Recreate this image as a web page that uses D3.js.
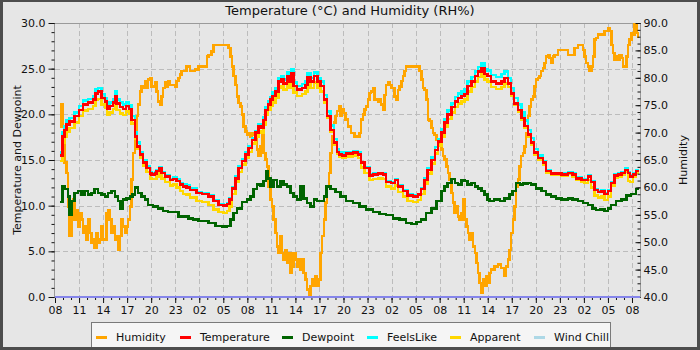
<!DOCTYPE html>
<html>
<head>
<meta charset="utf-8">
<script src="https://cdn.jsdelivr.net/npm/d3@7"></script>
<style>
  html, body { margin: 0; padding: 0; background: #e6e6e6; }
  svg { display: block; font-family: "DejaVu Sans", sans-serif; }
</style>
</head>
<body>
<svg id="chart" width="700" height="350"></svg>
<script>
// ---- data (hours since 08:00 on the first day) ----
const startTime = Date.UTC(2024, 4, 20, 8);
const endTime = Date.UTC(2024, 4, 23, 9);

const tempHours = [0.67,0.92,1.17,1.42,1.83,2.46,3.0,3.5,4.13,4.75,5.08,5.38,5.79,6.21,6.5,6.83,7.25,7.46,7.67,8.08,8.5,8.83,9.25,9.54,9.96,10.25,10.58,11.0,11.42,11.83,12.04,12.46,12.67,13.0,13.29,13.71,14.33,14.75,15.17,15.58,16.0,16.42,16.83,17.67,18.33,19.17,19.79,20.42,21.04,21.46,21.75,22.08,22.5,22.92,23.33,23.75,24.17,24.58,25.0,25.42,25.75,26.0,26.25,26.58,26.88,27.17,27.5,27.92,28.25,28.54,28.96,29.17,29.5,29.79,30.21,30.83,31.25,31.5,31.88,32.29,32.75,33.13,33.54,33.96,34.38,34.79,35.21,35.42,35.83,36.3,37.2,37.8,38.2,38.6,39.25,39.7,40.3,40.9,41.3,41.9,42.4,42.8,43.4,44.0,44.7,45.3,45.7,46.1,46.5,47.0,47.4,47.8,48.2,48.6,49.0,49.5,49.9,50.3,50.7,51.1,51.5,51.96,52.4,52.8,53.2,53.6,54.0,54.4,55.0,55.7,56.1,56.5,56.9,57.3,57.75,58.2,58.6,59.0,59.4,59.8,60.25,60.9,61.3,61.9,62.5,63.2,64.0,64.6,65.0,65.7,66.1,66.5,66.9,67.3,67.75,68.2,68.6,69.0,69.4,69.8,70.25,70.7,71.1,71.5,71.75,72.1,72.5,72.75];

const temperature = [15.5,17.6,18.3,18.9,19.2,19.8,20.5,21.1,21.3,21.6,22.3,22.5,21.8,21.4,20.6,20.9,21.3,22.0,21.2,20.8,20.6,20.9,20.6,19.4,17.6,16.5,15.6,14.7,14.1,13.5,13.4,13.5,13.8,14.1,13.6,13.2,12.8,12.9,12.7,12.3,12.1,12.0,11.7,11.4,11.3,11.0,10.5,10.1,10.0,10.2,10.7,11.9,13.0,14.1,14.9,15.6,16.3,17.2,18.0,18.7,18.5,19.4,20.5,21.1,21.6,22.0,22.5,23.6,23.8,23.4,24.2,23.6,24.5,23.1,22.7,22.9,23.2,24.1,23.6,24.2,23.6,23.1,21.6,19.8,18.3,16.9,15.9,15.6,15.5,15.7,15.8,15.6,14.7,14.1,13.3,13.4,13.5,13.4,12.6,12.5,12.8,12.1,11.6,11.1,11.0,11.2,11.8,12.8,13.9,15.0,16.1,17.0,18.0,19.1,20.0,20.8,21.4,21.8,22.0,22.2,23.1,23.6,24.2,24.7,25.1,24.4,24.2,23.6,23.4,23.6,24.0,23.4,22.3,21.2,20.5,19.6,18.7,17.8,16.9,15.8,15.2,14.7,13.8,13.5,13.5,13.4,13.6,13.4,13.0,12.8,12.8,13.2,12.6,11.7,11.5,11.6,11.3,11.6,12.5,13.3,13.4,13.6,13.9,13.6,13.2,13.4,13.8,13.9];

const feelsLike = [15.8,18.0,18.7,19.3,19.6,20.2,20.9,21.5,21.7,22.0,22.8,22.9,22.2,21.8,21.0,21.3,21.7,22.5,21.6,21.3,21.1,21.3,21.0,19.8,18.0,16.9,15.9,15.0,14.3,13.7,13.6,13.7,13.9,14.2,13.7,13.3,12.9,13.1,12.9,12.5,12.3,12.2,11.9,11.5,11.4,11.1,10.6,10.2,10.1,10.3,10.8,12.0,13.2,14.3,15.1,15.8,16.5,17.4,18.2,18.9,18.8,19.7,20.8,21.4,21.9,22.4,22.9,24.0,24.2,23.8,24.6,24.0,24.9,23.5,23.1,23.3,23.6,24.5,24.0,24.6,24.0,23.6,22.1,20.3,18.8,17.3,16.2,15.9,15.8,15.9,16.0,15.8,14.8,14.2,13.4,13.5,13.6,13.5,12.7,12.6,12.9,12.2,11.7,11.2,11.1,11.3,11.9,13.0,14.1,15.3,16.4,17.3,18.4,19.5,20.4,21.2,21.9,22.3,22.5,22.7,23.6,24.1,24.7,25.2,25.6,24.9,24.8,24.3,24.1,24.4,24.7,24.0,22.9,21.8,21.1,20.2,19.3,18.3,17.4,16.2,15.5,14.9,13.9,13.6,13.6,13.5,13.7,13.5,13.1,12.9,12.9,13.3,12.7,11.8,11.6,11.7,11.4,11.7,12.6,13.4,13.5,13.7,14.1,13.7,13.3,13.5,13.9,14.0];

const apparent = [14.9,16.9,17.5,18.1,18.5,19.1,19.8,20.4,20.6,20.9,21.6,21.7,21.1,20.7,19.9,20.2,20.6,21.3,20.5,20.1,19.9,20.3,20.1,19.0,17.3,16.2,15.3,14.4,13.7,13.0,12.9,12.9,13.2,13.5,13.0,12.6,12.2,12.3,12.0,11.6,11.3,11.2,10.9,10.5,10.4,10.1,9.6,9.3,9.2,9.4,9.9,11.3,12.6,13.7,14.5,15.2,15.9,16.8,17.6,18.2,18.0,18.9,19.9,20.5,20.9,21.3,21.8,22.9,23.1,22.7,23.5,22.9,23.8,22.4,22.0,22.2,22.5,23.4,22.9,23.5,22.9,22.5,21.3,19.6,18.1,16.7,15.7,15.4,15.2,15.4,15.5,15.2,14.2,13.6,12.8,12.9,13.0,12.9,12.1,11.9,12.2,11.5,11.0,10.5,10.4,10.6,11.3,12.4,13.5,14.6,15.7,16.6,17.6,18.6,19.5,20.2,20.8,21.2,21.4,21.6,22.5,23.0,23.6,24.1,24.5,23.8,23.6,23.0,22.8,23.0,23.4,23.0,22.0,21.0,20.3,19.4,18.5,17.6,16.7,15.6,15.0,14.5,13.6,13.4,13.4,13.3,13.5,13.2,12.8,12.6,12.5,12.8,12.0,11.1,10.9,11.0,10.6,11.0,12.2,13.1,13.2,13.4,13.7,12.7,12.6,13.2,13.6,13.7];

const dewHours = [0.67,0.92,1.21,1.63,1.83,2.04,2.46,2.88,3.29,3.71,4.13,4.54,4.96,5.38,5.79,6.21,6.63,7.04,7.46,7.88,8.17,8.5,8.92,9.33,9.67,9.96,10.38,10.79,11.21,11.63,12.25,12.88,13.5,14.13,14.75,15.38,16.0,16.63,17.25,17.88,18.33,19.17,20.0,20.83,21.46,21.88,22.29,22.71,23.33,23.96,24.38,24.79,25.21,25.63,26.04,26.33,26.58,26.88,27.29,27.71,28.13,28.54,28.96,29.38,29.79,30.21,30.63,31.04,31.46,31.88,32.29,32.71,33.13,33.54,33.88,34.38,35.0,35.63,36.3,37.2,38.0,38.8,39.7,40.5,41.3,42.2,43.0,43.8,44.5,45.1,45.7,46.3,47.0,47.6,48.2,48.6,49.0,49.5,49.9,50.3,50.7,51.1,51.5,52.0,52.4,52.8,53.2,53.6,54.0,54.2,54.8,55.5,56.1,56.7,57.1,57.5,58.0,58.4,59.0,59.4,60.0,60.7,61.3,61.9,62.5,63.2,64.0,64.6,65.25,65.9,66.5,67.1,67.5,68.0,68.6,69.0,69.4,70.0,70.7,71.3,71.9,72.5,72.75];

const dewpoint = [10.4,12.1,11.8,11.0,9.0,10.5,11.4,11.6,11.2,11.6,11.2,11.4,11.8,11.4,11.2,11.0,11.4,11.6,11.0,10.5,9.7,10.7,10.8,11.0,11.2,12.0,11.4,11.0,10.7,10.1,9.9,9.7,9.4,9.3,9.3,8.8,8.8,8.6,8.5,8.3,8.3,8.1,7.8,7.7,7.8,8.5,9.2,9.7,10.4,10.7,11.0,11.8,12.3,12.2,12.7,13.8,13.0,12.1,12.8,12.1,12.7,12.3,12.1,11.4,11.0,10.7,12.1,10.8,10.3,9.9,10.7,10.5,10.5,11.0,12.1,11.8,11.5,11.0,10.5,10.3,9.9,9.6,9.3,9.1,9.0,8.6,8.5,8.1,8.0,8.2,8.5,9.2,9.7,10.5,11.6,12.1,12.5,12.9,12.5,12.3,12.8,12.7,12.3,12.5,12.1,11.9,11.6,11.2,10.7,10.5,10.7,10.5,10.8,11.2,11.6,12.5,12.3,12.4,12.5,12.3,11.9,11.6,11.2,11.0,10.8,10.7,10.8,10.7,10.5,10.3,10.1,9.7,9.5,9.6,9.4,9.7,10.1,10.5,10.7,11.1,11.3,11.8,11.9];

const humidityHours = [0.58,0.83,1.0,1.21,1.42,1.63,1.83,2.04,2.25,2.46,2.67,2.88,3.08,3.29,3.5,3.71,3.92,4.13,4.33,4.54,4.75,4.96,5.17,5.38,5.58,5.79,6.0,6.42,6.63,6.83,7.04,7.25,7.46,7.67,7.88,8.08,8.29,8.5,8.71,8.92,9.13,9.33,9.54,9.75,9.96,10.17,10.38,10.58,10.79,11.0,11.21,11.42,11.63,11.83,12.04,12.25,12.46,12.67,12.88,13.08,13.29,13.5,13.71,13.92,14.13,14.33,14.75,14.96,15.17,15.38,15.58,15.79,16.21,16.42,16.83,17.5,17.92,18.75,18.96,19.17,19.5,19.79,21.46,21.67,21.88,22.08,22.29,22.5,22.71,22.92,23.13,23.33,23.54,23.75,23.96,24.17,24.38,24.58,24.79,25.0,25.21,25.42,25.63,25.83,26.04,26.25,26.46,26.67,26.88,27.08,27.29,27.5,27.71,27.92,28.13,28.33,28.54,28.75,28.96,29.17,29.38,29.58,29.79,30.0,30.21,30.42,30.63,30.83,31.04,31.25,31.46,31.67,31.88,32.08,32.29,32.5,32.71,32.92,33.13,33.33,33.54,33.75,33.96,34.17,34.38,34.58,34.79,35.0,35.21,35.42,35.63,35.83,36.04,36.25,36.54,36.96,37.38,37.79,38.0,38.21,38.42,38.63,38.83,39.04,39.25,39.46,39.67,39.88,40.08,40.29,40.5,40.71,40.92,41.13,41.33,41.54,41.75,41.96,42.17,42.38,42.58,42.79,43.0,43.21,43.42,43.63,43.83,45.29,45.5,45.71,45.92,46.13,46.33,46.54,46.75,46.96,47.17,47.38,47.58,47.79,48.0,48.21,48.42,48.63,48.83,49.04,49.25,49.46,49.67,49.88,50.08,50.29,50.5,50.71,50.92,51.13,51.33,51.54,51.75,51.96,52.17,52.38,52.58,52.79,53.0,53.21,53.42,53.63,53.83,54.0,54.25,54.42,54.83,55.25,55.67,56.08,56.29,56.5,56.71,56.92,57.13,57.33,57.54,57.75,57.96,58.17,58.38,58.58,58.79,59.0,59.21,59.42,59.63,59.83,60.04,60.25,60.46,60.67,60.88,61.08,61.29,61.5,61.71,61.92,62.13,62.33,62.75,63.58,64.0,64.42,64.83,65.25,65.67,65.88,66.08,66.29,66.5,66.71,66.92,67.13,67.33,67.54,67.75,68.17,68.58,69.0,69.21,69.42,69.63,69.83,70.04,70.25,70.46,70.67,70.88,71.08,71.29,71.5,71.71,71.92,72.13,72.33,72.54,72.75];

const humidity = [71.1,75.1,71.1,64.5,62.6,56.5,51.1,55.3,57.8,54.1,55.9,52.9,55.3,54.1,51.7,52.9,50.5,54.1,51.7,49.9,50.5,48.9,51.7,49.9,50.5,52.9,50.5,55.3,55.9,54.1,51.7,52.9,50.5,51.1,48.6,51.1,54.1,52.9,51.7,52.9,54.1,56.5,61.4,66.3,70.5,73.0,75.1,77.5,78.4,78.1,79.4,78.1,79.7,80.0,78.4,78.4,79.1,77.5,75.7,75.1,76.6,78.1,79.1,78.4,79.4,78.7,78.7,78.4,79.4,80.0,80.6,81.2,81.2,82.1,81.2,81.5,82.1,82.1,83.9,84.2,84.8,86.0,86.0,85.4,83.9,82.1,80.3,78.7,76.6,75.4,74.8,73.3,71.1,70.2,69.6,69.9,69.3,69.9,69.6,69.3,66.9,65.7,67.5,69.6,66.3,65.1,63.8,60.2,57.8,56.5,54.1,51.7,49.2,48.0,51.1,48.0,46.8,48.6,46.2,48.0,44.4,45.6,48.0,46.8,45.6,46.8,45.0,46.8,44.4,43.2,41.4,40.1,42.0,43.2,42.0,43.8,42.0,43.2,48.0,51.1,54.1,57.2,60.2,62.6,66.3,69.3,71.8,73.0,73.9,74.8,73.0,74.2,73.6,72.4,71.1,69.9,69.3,69.3,69.9,72.4,73.3,74.2,74.8,76.0,77.2,77.5,78.1,76.0,76.0,75.7,76.0,75.1,74.2,76.9,78.7,79.1,78.7,78.1,78.1,76.6,76.0,77.8,78.4,79.4,80.3,81.2,82.1,82.1,81.2,79.7,78.1,77.8,76.0,72.4,72.1,70.8,69.9,69.6,68.7,67.8,68.7,66.9,65.7,65.1,63.8,62.6,61.4,59.0,57.2,55.3,56.5,54.7,54.1,55.3,57.8,54.1,52.9,51.7,50.5,51.7,49.2,48.0,46.2,44.4,42.6,40.7,43.2,42.0,43.8,42.6,44.4,45.0,45.6,45.9,45.3,43.8,45.6,46.8,48.6,51.7,54.1,56.5,60.2,61.4,63.8,65.7,66.3,67.5,69.9,73.0,74.8,76.0,76.6,78.4,79.7,80.0,80.3,81.2,81.8,82.7,83.9,84.2,83.6,82.7,83.9,84.2,85.1,85.1,84.2,84.2,85.4,86.0,86.0,85.1,83.9,82.7,82.1,81.2,82.1,83.9,87.0,87.3,87.9,87.9,88.5,89.1,88.5,86.0,84.5,83.3,83.9,83.3,84.2,83.6,82.1,82.1,83.9,86.0,87.0,88.2,87.9,89.7,88.2,87.3];

const leftTicks = [0, 5, 10, 15, 20, 25, 30];
const rightTicks = [40, 45, 50, 55, 60, 65, 70, 75, 80, 85, 90];

const legendItems = ["Humidity", "Temperature", "Dewpoint", "FeelsLike", "Apparent", "Wind Chill"];
const legendColors = ["#ffa500", "#ff0000", "#006400", "#00ffff", "#ffd700", "#add8e6"];

// ---- layout ----
const W = 700, H = 350;
const plot = { left: 55, right: 640, top: 23, bottom: 297 };

const svg = d3.select("#chart");

// frame
svg.append("rect").attr("x", 0).attr("y", 0).attr("width", W).attr("height", H).attr("fill", "#4d4d4d");
svg.append("rect").attr("x", 3).attr("y", 2).attr("width", W - 6).attr("height", H - 5).attr("fill", "#e6e6e6");

const hourToDate = h => new Date(startTime + h * 3600000);

const x = d3.scaleUtc().domain([new Date(startTime), new Date(endTime)]).range([plot.left, plot.right]);
const yL = d3.scaleLinear().domain([0, 30]).range([plot.bottom, plot.top]);
const yR = d3.scaleLinear().domain([40, 90]).range([plot.bottom, plot.top]);

const majorTimes = d3.utcHour.range(new Date(startTime), new Date(endTime), 3);
const minorTimes = d3.utcHour.range(new Date(startTime), new Date(endTime));

// grid
const grid = svg.append("g").attr("stroke", "#bcbcbc").attr("stroke-width", 1).attr("stroke-dasharray", "5,3");
grid.selectAll("line.v").data(majorTimes.slice(1)).join("line")
  .attr("x1", d => Math.round(x(d)) + 0.5).attr("x2", d => Math.round(x(d)) + 0.5)
  .attr("y1", plot.top).attr("y2", plot.bottom);
grid.selectAll("line.h").data(leftTicks.slice(1, -1)).join("line")
  .attr("x1", plot.left).attr("x2", plot.right)
  .attr("y1", d => Math.round(yL(d)) + 0.5).attr("y2", d => Math.round(yL(d)) + 0.5);

// plot border (top)
svg.append("line").attr("x1", plot.left).attr("x2", plot.right).attr("y1", plot.top + 0.5).attr("y2", plot.top + 0.5)
  .attr("stroke", "#9a9a9a").attr("stroke-width", 1);

// ---- series ----
svg.append("clipPath").attr("id", "plotClip").append("rect")
  .attr("x", plot.left).attr("y", plot.top - 2).attr("width", plot.right - plot.left).attr("height", plot.bottom - plot.top + 2);

const series = svg.append("g").attr("clip-path", "url(#plotClip)").attr("fill", "none")
  .attr("stroke-linejoin", "miter").attr("shape-rendering", "crispEdges");

function drawSeries(hours, values, scale, color, width) {
  const pts = hours.map((h, i) => [hourToDate(h), values[i]]);
  series.append("path")
    .datum(pts)
    .attr("stroke", color)
    .attr("stroke-width", width)
    .attr("d", d3.line().curve(d3.curveStepAfter).x(d => x(d[0])).y(d => scale(d[1])));
}

drawSeries(humidityHours, humidity, yR, legendColors[0], 2.5);
drawSeries(tempHours, feelsLike, yL, legendColors[3], 2.5);
drawSeries(tempHours, apparent, yL, legendColors[4], 2.5);
drawSeries(dewHours, dewpoint, yL, legendColors[2], 2.5);
drawSeries(tempHours, temperature, yL, legendColors[1], 2.5);

// ---- axes ----
const fmt = d3.format(".1f");

function styleAxis(g) {
  g.selectAll("path.domain").remove();
  g.selectAll("line").attr("stroke", "#111");
  g.selectAll("text").attr("fill", "#111").style("font-size", "11px").style("font-family", "DejaVu Sans, sans-serif");
}

// left
svg.append("line").attr("x1", plot.left - 0.5).attr("x2", plot.left - 0.5).attr("y1", plot.top).attr("y2", plot.bottom)
  .attr("stroke", "#9a9a9a");
svg.append("g").attr("transform", `translate(${plot.left - 0.5},0)`)
  .call(d3.axisLeft(yL).tickValues(d3.range(0, 31, 1)).tickSize(3).tickFormat(""))
  .call(styleAxis);
svg.append("g").attr("transform", `translate(${plot.left - 0.5},0)`)
  .call(d3.axisLeft(yL).tickValues(leftTicks).tickSize(6).tickPadding(3).tickFormat(fmt))
  .call(styleAxis);

// right
svg.append("line").attr("x1", plot.right + 0.5).attr("x2", plot.right + 0.5).attr("y1", plot.top).attr("y2", plot.bottom)
  .attr("stroke", "#9a9a9a");
svg.append("g").attr("transform", `translate(${plot.right + 0.5},0)`)
  .call(d3.axisRight(yR).tickValues(d3.range(40, 90.1, 1.25)).tickSize(-3).tickFormat(""))
  .call(styleAxis);
svg.append("g").attr("transform", `translate(${plot.right + 0.5},0)`)
  .call(d3.axisRight(yR).tickValues(rightTicks).tickSizeInner(-5).tickSizeOuter(0).tickPadding(3).tickFormat(fmt))
  .call(styleAxis);

// bottom
svg.append("g").attr("transform", `translate(0,${plot.bottom})`)
  .call(d3.axisBottom(x).tickValues(minorTimes).tickSize(3).tickFormat(""))
  .call(styleAxis);
svg.append("g").attr("transform", `translate(0,${plot.bottom})`)
  .call(d3.axisBottom(x).tickValues(majorTimes).tickSize(6).tickPadding(3).tickFormat(d3.utcFormat("%H")))
  .call(styleAxis);
svg.append("line").attr("x1", plot.left).attr("x2", plot.right).attr("y1", plot.bottom).attr("y2", plot.bottom)
  .attr("stroke", "#8585ea").attr("stroke-width", 2);

// ---- titles ----
svg.append("text").attr("x", 350).attr("y", 15).attr("text-anchor", "middle")
  .style("font-size", "13px").attr("fill", "#111").text("Temperature (°C) and Humidity (RH%)");
svg.append("text").attr("transform", `translate(21,${(plot.top + plot.bottom) / 2}) rotate(-90)`)
  .attr("text-anchor", "middle").style("font-size", "11px").attr("fill", "#111").text("Temperature and Dewpoint");
svg.append("text").attr("transform", `translate(687,${(plot.top + plot.bottom) / 2}) rotate(-90)`)
  .attr("text-anchor", "middle").style("font-size", "11px").attr("fill", "#111").text("Humidity");

// ---- legend ----
const legend = svg.append("g");
legend.append("rect").attr("x", 91.5).attr("y", 322.5).attr("width", 519).attr("height", 30)
  .attr("fill", "#f5f5f5").attr("stroke", "#7a7a7a");
const legendX = [96, 180, 282, 367, 450, 534];
legendItems.forEach((name, i) => {
  const g = legend.append("g").attr("transform", `translate(${legendX[i]},337.5)`);
  g.append("line").attr("x1", 0).attr("x2", 11).attr("y1", 0).attr("y2", 0)
    .attr("stroke", legendColors[i]).attr("stroke-width", 3);
  g.append("text").attr("x", 20).attr("y", 0).attr("dy", "0.35em")
    .style("font-size", "11px").attr("fill", "#111").text(name);
});
// frame edge over the legend bottom
svg.append("rect").attr("x", 0).attr("y", H - 3).attr("width", W).attr("height", 3).attr("fill", "#4d4d4d");
</script>
</body>
</html>
